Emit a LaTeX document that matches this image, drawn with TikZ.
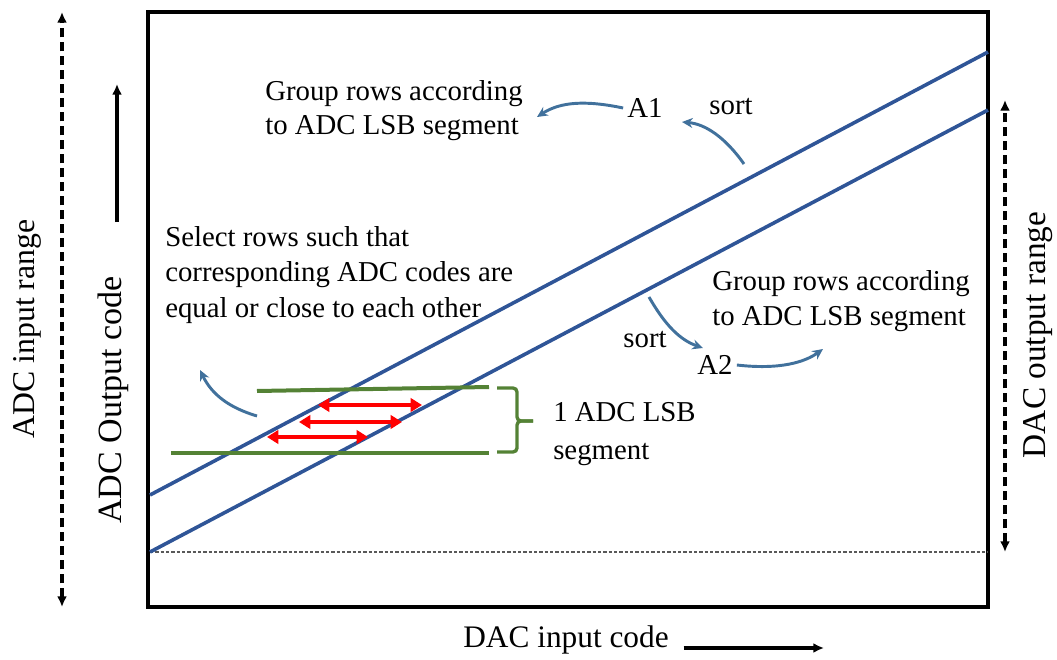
\documentclass[tikz,border=0pt]{standalone}
\usepackage{fontspec}
\setmainfont{Liberation Serif}
\usetikzlibrary{arrows.meta}
\definecolor{linec}{HTML}{2F5597}
\definecolor{curvec}{HTML}{41719C}
\definecolor{segc}{HTML}{548235}

\begin{document}
\begin{tikzpicture}[x=0.75pt, y=-0.75pt,
  txt/.style={font=\fontsize{21.6}{25.5}\selectfont, align=left, inner sep=0pt},
  axtxt/.style={font=\fontsize{#1}{#1}\selectfont, inner sep=0pt},
  curv/.style={curvec, line width=2.2pt, -{Stealth[length=8pt,width=7.5pt]}},
  spanarrow/.style={dash pattern=on 7pt off 3.5pt, line width=2.6pt, {Latex[length=8pt,width=7.5pt]}-{Latex[length=8pt,width=7.5pt]}},
  axarrow/.style={line width=2.3pt, -{Latex[length=8pt,width=7.5pt]}},
  seg/.style={segc, line width=3pt},
  pair/.style={red, line width=2.8pt, {Triangle[length=8.5pt,width=10pt]}-{Triangle[length=8.5pt,width=10pt]}}]
  \useasboundingbox (0,0) rectangle (1057,660);
  % frame and transfer lines
  \draw[line width=3pt] (148,12) rectangle (988,607);
  \draw[gray!70!black, dash pattern=on 2.5pt off 1.5pt, line width=0.8pt] (150,552) -- (988,552);
  \coordinate (lineAs) at (150,495);
  \coordinate (lineAe) at (988,52);
  \coordinate (lineBs) at (150,552);
  \coordinate (lineBe) at (988,110);
  \draw[linec, line width=2.7pt] (lineAs) -- (lineAe);
  \draw[linec, line width=2.7pt] (lineBs) -- (lineBe);
  % one LSB segment
  \coordinate (segTs) at (257,391);
  \coordinate (segTe) at (489,387);
  \coordinate (segBs) at (171,453);
  \coordinate (segBe) at (489,453);
  \draw[seg] (segTs) -- (segTe);
  \draw[seg] (segBs) -- (segBe);
  \coordinate (tip) at (533,421);
  \draw[seg, line width=2.5pt, rounded corners=3pt] (497,388) -- (517,388) -- (517,421) -- (tip);
  \draw[seg, line width=2.5pt, rounded corners=3pt] (tip) -- (517,421) -- (517,452) -- (497,452);
  \draw[pair] (318,405) -- (422,405);
  \draw[pair] (299,422) -- (402,422);
  \draw[pair] (267,437) -- (368,437);
  % labels
  \node[txt, anchor=west] (grpA) at (265,111) {Group rows according\\to ADC LSB segment};
  \node[txt] (A1) at (645,108) {A1};
  \node[txt] (sortA) at (731,107) {sort};
  \node[txt, anchor=west] (sel) at (165,275) {Select rows such that\\[1pt]corresponding ADC codes are\\[1pt]equal or close to each other};
  \node[txt, anchor=west] (grpB) at (712,301) {Group rows according\\[1pt]to ADC LSB segment};
  \node[txt] (sortB) at (645,340) {sort};
  \node[txt] (A2) at (715,365) {A2};
  \node[txt, anchor=west] (lsb) at (553,434) {1 ADC LSB\\[3pt]segment};
  % sorting arrows
  \coordinate (fromA) at (744,164);
  \coordinate (toA1) at (682,122);
  \coordinate (toA) at (537,117);
  \coordinate (fromB) at (649,297);
  \coordinate (toA2) at (703,348);
  \coordinate (toB) at (823,349);
  \coordinate (toSel) at (200,370);
  \draw[curv] (fromA) .. controls (725,137) and (705,124) .. (toA1);
  \draw[curv] ([xshift=-3pt]A1.west) .. controls (585,100) and (560,102) .. (toA);
  \draw[curv] (fromB) .. controls (665,325) and (680,340) .. (toA2);
  \draw[curv] ([xshift=3pt]A2.east) .. controls (780,370) and (805,362) .. (toB);
  \draw[curv] (257,416) .. controls (230,408) and (212,395) .. (toSel);
  % axes
  \node[axtxt=23.8, rotate=90] (adcin) at (27,329) {ADC input range};
  \coordinate (adcinT) at (62,12);
  \coordinate (adcinB) at (62,607);
  \draw[spanarrow] (adcinB) -- (adcinT);
  \node[axtxt=25.5, rotate=90] (adcout) at (113,400) {ADC Output code};
  \coordinate (adcoutA) at (117,222);
  \coordinate (adcoutB) at (117,84);
  \draw[axarrow] (adcoutA) -- (adcoutB);
  \node[axtxt=25, rotate=90] (dacout) at (1038,335) {DAC output range};
  \coordinate (dacoutT) at (1005,100);
  \coordinate (dacoutB) at (1005,552);
  \draw[spanarrow] (dacoutB) -- (dacoutT);
  \node[axtxt=23.5] (dacin) at (566,640) {DAC input code};
  \coordinate (dacinB) at (824,648);
  \draw[axarrow] ([xshift=11pt]dacin.east |- dacinB) -- (dacinB);
\end{tikzpicture}
\end{document}
